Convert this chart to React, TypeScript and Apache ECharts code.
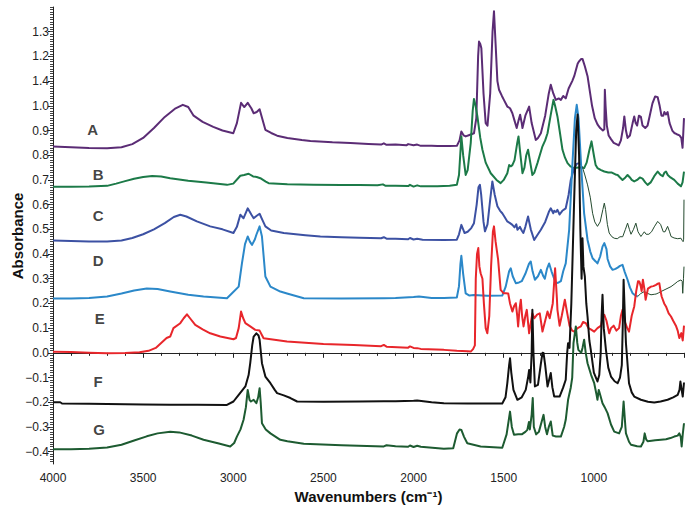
import React, { useEffect, useRef } from "react";
import * as echarts from "echarts";

type Pt = [number, number];

const xTicks: number[] = [500, 1000, 1500, 2000, 2500, 3000, 3500, 4000];
const yMajor: number[] = [-0.4, -0.3, -0.2, -0.1, 0, 0.1, 0.2, 0.3, 0.4, 0.5, 0.6, 0.7, 0.8, 0.9, 1.0, 1.1, 1.2, 1.3];
const yLabelText: string[] = ["−0.4", "−0.3", "−0.2", "−0.1", "0.0", "0.1", "0.2", "0.3", "0.4", "0.5", "0.6", "0.7", "0.8", "0.9", "1.0", "1.4", "1.2", "1.3"];
const yTitle = "Absorbance";
const xTitle = "Wavenumbers (cm⁻¹)";

const curveLetters: string[] = ["A", "B", "C", "D", "E", "F", "G"];
const letterPos: Pt[] = [[3780, 0.905], [3750, 0.72], [3750, 0.555], [3750, 0.375], [3740, 0.14], [3750, -0.115], [3745, -0.31]];

const seriesA: Pt[] = [
  [4000, 0.835], [3900, 0.832], [3800, 0.829], [3700, 0.828], [3620, 0.832], [3560, 0.845], [3500, 0.87], [3440, 0.91], [3380, 0.955], [3320, 0.99], [3280, 1.004], [3250, 0.995], [3220, 0.96], [3170, 0.935], [3111, 0.915], [3060, 0.9], [3000, 0.889], [2980, 0.93], [2957, 1.012], [2939, 0.995], [2920, 1.012], [2900, 0.99], [2887, 0.97], [2870, 0.975], [2854, 0.986], [2840, 0.95], [2822, 0.903], [2790, 0.89], [2757, 0.879], [2700, 0.87], [2620, 0.862], [2572, 0.858], [2450, 0.852], [2350, 0.849], [2250, 0.845], [2180, 0.843], [2165, 0.848], [2150, 0.842], [2100, 0.843], [2040, 0.84], [2030, 0.845], [2000, 0.84], [1980, 0.843], [1960, 0.838], [1900, 0.838], [1868, 0.837], [1800, 0.837], [1760, 0.838], [1745, 0.86], [1735, 0.896], [1722, 0.88], [1711, 0.876], [1690, 0.882], [1665, 0.889], [1652, 0.95], [1642, 1.2], [1637, 1.26], [1630, 1.25], [1624, 1.233], [1612, 1.05], [1600, 0.93], [1590, 0.92], [1575, 1.05], [1562, 1.3], [1554, 1.383], [1545, 1.25], [1535, 1.1], [1526, 1.065], [1510, 1.04], [1499, 1.024], [1480, 0.997], [1465, 0.99], [1452, 0.97], [1440, 0.94], [1428, 0.91], [1418, 0.94], [1409, 0.964], [1400, 0.93], [1396, 0.91], [1380, 0.96], [1359, 0.997], [1345, 0.93], [1322, 0.862], [1310, 0.87], [1294, 0.889], [1270, 0.96], [1250, 1.05], [1239, 1.085], [1225, 1.05], [1211, 1.024], [1195, 1.03], [1183, 1.024], [1170, 1.04], [1156, 1.03], [1140, 1.07], [1120, 1.1], [1109, 1.12], [1090, 1.17], [1082, 1.18], [1070, 1.19], [1063, 1.19], [1050, 1.16], [1035, 1.12], [1010, 1.0], [995, 0.95], [980, 0.925], [965, 0.91], [950, 0.9], [942, 0.905], [939, 1.065], [935, 1.0], [928, 0.92], [918, 0.88], [905, 0.865], [890, 0.85], [875, 0.845], [862, 0.84], [850, 0.86], [838, 0.91], [831, 0.957], [822, 0.9], [813, 0.87], [800, 0.88], [785, 0.93], [776, 0.957], [768, 0.93], [760, 0.92], [750, 0.96], [739, 0.955], [730, 0.92], [715, 0.91], [702, 0.92], [690, 0.96], [675, 1.01], [660, 1.038], [646, 1.035], [635, 1.0], [625, 0.96], [615, 0.96], [609, 0.975], [600, 0.965], [591, 0.975], [580, 0.93], [565, 0.9], [554, 0.89], [540, 0.885], [525, 0.88], [515, 0.87], [508, 0.83], [500, 0.95],
];

const seriesB: Pt[] = [
  [4000, 0.672], [3900, 0.672], [3800, 0.673], [3700, 0.676], [3650, 0.685], [3600, 0.695], [3550, 0.705], [3500, 0.712], [3450, 0.716], [3400, 0.714], [3350, 0.707], [3250, 0.697], [3150, 0.69], [3035, 0.68], [3000, 0.685], [2961, 0.717], [2940, 0.72], [2915, 0.725], [2890, 0.714], [2870, 0.712], [2850, 0.707], [2820, 0.693], [2804, 0.687], [2700, 0.682], [2556, 0.68], [2400, 0.679], [2300, 0.679], [2200, 0.678], [2170, 0.682], [2155, 0.676], [2100, 0.676], [2030, 0.675], [2020, 0.68], [2000, 0.673], [1980, 0.678], [1960, 0.674], [1868, 0.674], [1800, 0.676], [1760, 0.68], [1748, 0.72], [1735, 0.876], [1725, 0.8], [1711, 0.72], [1700, 0.74], [1683, 0.849], [1672, 0.98], [1665, 1.028], [1656, 1.0], [1646, 0.957], [1630, 0.87], [1618, 0.822], [1600, 0.77], [1572, 0.727], [1540, 0.7], [1517, 0.687], [1500, 0.7], [1480, 0.727], [1470, 0.76], [1461, 0.755], [1452, 0.76], [1440, 0.78], [1425, 0.85], [1418, 0.876], [1410, 0.82], [1396, 0.727], [1385, 0.75], [1375, 0.8], [1365, 0.822], [1355, 0.78], [1341, 0.72], [1330, 0.73], [1313, 0.768], [1300, 0.8], [1285, 0.836], [1270, 0.86], [1257, 0.889], [1240, 0.96], [1224, 1.024], [1215, 1.0], [1202, 0.957], [1190, 0.9], [1174, 0.822], [1160, 0.79], [1146, 0.768], [1130, 0.755], [1109, 0.748], [1085, 0.75], [1070, 0.75], [1054, 0.748], [1040, 0.77], [1025, 0.82], [1013, 0.856], [1000, 0.8], [990, 0.76], [980, 0.748], [960, 0.74], [942, 0.734], [920, 0.73], [900, 0.73], [880, 0.722], [868, 0.72], [855, 0.71], [841, 0.7], [825, 0.71], [813, 0.72], [800, 0.71], [790, 0.7], [776, 0.694], [760, 0.7], [745, 0.71], [730, 0.705], [715, 0.69], [702, 0.68], [685, 0.69], [665, 0.715], [646, 0.734], [630, 0.72], [618, 0.715], [608, 0.73], [600, 0.734], [590, 0.72], [575, 0.71], [554, 0.7], [535, 0.685], [517, 0.674], [508, 0.69], [500, 0.734],
];

const seriesC: Pt[] = [
  [4000, 0.455], [3900, 0.453], [3800, 0.451], [3700, 0.451], [3620, 0.455], [3560, 0.465], [3500, 0.48], [3440, 0.5], [3380, 0.525], [3330, 0.55], [3294, 0.559], [3260, 0.552], [3202, 0.532], [3128, 0.512], [3060, 0.5], [2999, 0.485], [2980, 0.51], [2961, 0.559], [2943, 0.545], [2920, 0.585], [2900, 0.56], [2887, 0.545], [2870, 0.555], [2854, 0.563], [2840, 0.54], [2822, 0.512], [2790, 0.495], [2720, 0.485], [2600, 0.476], [2517, 0.471], [2400, 0.468], [2300, 0.466], [2180, 0.464], [2165, 0.468], [2150, 0.462], [2100, 0.462], [2030, 0.46], [2020, 0.465], [2000, 0.459], [1980, 0.462], [1950, 0.458], [1832, 0.457], [1760, 0.458], [1748, 0.48], [1735, 0.518], [1725, 0.5], [1717, 0.485], [1700, 0.49], [1680, 0.505], [1665, 0.525], [1650, 0.6], [1640, 0.67], [1632, 0.68], [1625, 0.64], [1612, 0.53], [1604, 0.492], [1590, 0.52], [1575, 0.62], [1563, 0.694], [1550, 0.64], [1535, 0.593], [1520, 0.575], [1508, 0.565], [1495, 0.55], [1480, 0.532], [1465, 0.525], [1452, 0.518], [1440, 0.508], [1430, 0.52], [1424, 0.498], [1410, 0.51], [1400, 0.495], [1391, 0.485], [1380, 0.51], [1365, 0.552], [1350, 0.5], [1331, 0.457], [1315, 0.475], [1294, 0.498], [1270, 0.53], [1250, 0.57], [1239, 0.585], [1225, 0.565], [1220, 0.575], [1210, 0.57], [1202, 0.579], [1190, 0.56], [1175, 0.575], [1156, 0.585], [1140, 0.64], [1128, 0.7], [1110, 0.745], [1095, 0.765], [1082, 0.768],
];

const seriesCTail: Pt[] = [
  [1082, 0.768], [1065, 0.755], [1050, 0.72], [1035, 0.68], [1020, 0.63], [1007, 0.565], [995, 0.53], [980, 0.512], [965, 0.53], [950, 0.58], [942, 0.606], [935, 0.58], [925, 0.52], [915, 0.485], [900, 0.47], [887, 0.464], [870, 0.462], [855, 0.47], [840, 0.47], [825, 0.5], [813, 0.525], [803, 0.5], [794, 0.48], [780, 0.5], [767, 0.525], [755, 0.49], [739, 0.471], [730, 0.48], [720, 0.49], [710, 0.48], [695, 0.48], [680, 0.49], [665, 0.51], [646, 0.532], [630, 0.52], [615, 0.49], [605, 0.49], [591, 0.512], [580, 0.49], [572, 0.471], [555, 0.465], [535, 0.462], [517, 0.464], [510, 0.455], [505, 0.45], [502, 0.46], [500, 0.62],
];

const seriesD: Pt[] = [
  [4000, 0.22], [3900, 0.22], [3800, 0.222], [3700, 0.228], [3620, 0.24], [3550, 0.252], [3480, 0.26], [3420, 0.258], [3350, 0.248], [3250, 0.235], [3165, 0.228], [3035, 0.221], [3007, 0.241], [2970, 0.268], [2952, 0.362], [2935, 0.44], [2920, 0.471], [2908, 0.45], [2896, 0.437], [2880, 0.46], [2872, 0.478], [2854, 0.512], [2841, 0.471], [2822, 0.309], [2794, 0.268], [2739, 0.248], [2702, 0.24], [2609, 0.221], [2400, 0.22], [2165, 0.221], [2100, 0.222], [2000, 0.226], [1970, 0.228], [1900, 0.222], [1832, 0.222], [1760, 0.224], [1748, 0.27], [1740, 0.36], [1735, 0.393], [1725, 0.32], [1711, 0.241], [1690, 0.232], [1665, 0.234], [1620, 0.232], [1591, 0.231], [1508, 0.232], [1489, 0.268], [1470, 0.33], [1461, 0.342], [1450, 0.31], [1433, 0.282], [1415, 0.285], [1400, 0.29], [1380, 0.32], [1360, 0.36], [1350, 0.37], [1340, 0.33], [1327, 0.296], [1310, 0.31], [1294, 0.336], [1280, 0.31], [1272, 0.3], [1260, 0.34], [1248, 0.362], [1235, 0.33], [1211, 0.282], [1195, 0.285], [1183, 0.29], [1170, 0.33], [1156, 0.362], [1137, 0.498], [1120, 0.75], [1105, 0.95], [1095, 1.004], [1085, 0.95], [1070, 0.75], [1054, 0.565], [1035, 0.457], [1020, 0.41], [1007, 0.383], [990, 0.37], [980, 0.362], [965, 0.39], [952, 0.43], [942, 0.444], [930, 0.42], [924, 0.38], [910, 0.35], [896, 0.336], [880, 0.34], [868, 0.345], [855, 0.352], [841, 0.356], [830, 0.33], [813, 0.296], [800, 0.265], [785, 0.241], [770, 0.232], [757, 0.228],
];

const seriesDTail: Pt[] = [
  [757, 0.228], [740, 0.24], [720, 0.248], [700, 0.24], [683, 0.235], [665, 0.237], [655, 0.238], [640, 0.243], [628, 0.248], [600, 0.258], [572, 0.268], [550, 0.28], [535, 0.289], [517, 0.295], [510, 0.29], [507, 0.241], [503, 0.3], [500, 0.349],
];

const seriesE: Pt[] = [
  [4000, 0.004], [3900, 0.003], [3800, 0.0], [3700, -0.002], [3600, -0.001], [3520, 0.002], [3470, 0.008], [3430, 0.02], [3400, 0.04], [3370, 0.06], [3350, 0.066], [3332, 0.1], [3294, 0.12], [3275, 0.14], [3257, 0.156], [3240, 0.14], [3211, 0.113], [3170, 0.095], [3128, 0.079], [3072, 0.066], [2999, 0.055], [2985, 0.06], [2970, 0.1], [2957, 0.167], [2945, 0.14], [2933, 0.12], [2906, 0.107], [2878, 0.093], [2854, 0.09], [2840, 0.07], [2832, 0.059], [2702, 0.046], [2500, 0.036], [2332, 0.032], [2180, 0.027], [2165, 0.032], [2150, 0.025], [2030, 0.021], [2020, 0.026], [2000, 0.02], [1980, 0.019], [1960, 0.016], [1832, 0.012], [1760, 0.008], [1700, 0.006], [1683, 0.005], [1670, 0.015], [1660, 0.03], [1655, 0.3], [1648, 0.4], [1641, 0.424], [1635, 0.35], [1628, 0.322], [1618, 0.3], [1610, 0.2], [1600, 0.1], [1591, 0.079], [1580, 0.15], [1570, 0.35], [1560, 0.49], [1554, 0.512], [1545, 0.45], [1531, 0.377], [1517, 0.255], [1500, 0.241], [1489, 0.241], [1475, 0.24], [1465, 0.2], [1452, 0.167], [1442, 0.19], [1433, 0.201], [1425, 0.15], [1420, 0.107], [1412, 0.18], [1405, 0.215], [1398, 0.15], [1390, 0.107], [1380, 0.15], [1372, 0.174], [1359, 0.079], [1350, 0.12], [1341, 0.16], [1330, 0.14], [1315, 0.155], [1300, 0.16], [1285, 0.086], [1270, 0.13], [1257, 0.167], [1245, 0.14], [1228, 0.2], [1215, 0.342], [1205, 0.22], [1202, 0.174], [1190, 0.11], [1178, 0.15], [1161, 0.215], [1150, 0.17], [1135, 0.11], [1120, 0.09], [1109, 0.086], [1090, 0.1], [1072, 0.107], [1060, 0.125], [1044, 0.12], [1030, 0.1], [1017, 0.095], [998, 0.086], [980, 0.1], [960, 0.11], [950, 0.15], [942, 0.154], [930, 0.13], [915, 0.079], [905, 0.1], [890, 0.11], [875, 0.09], [860, 0.1], [850, 0.15], [841, 0.174], [830, 0.13], [815, 0.1], [805, 0.086], [790, 0.15], [776, 0.188], [765, 0.25], [755, 0.29], [748, 0.289], [740, 0.27], [735, 0.25], [728, 0.296], [720, 0.26], [713, 0.215], [700, 0.26], [683, 0.268], [670, 0.27], [655, 0.275], [645, 0.28], [637, 0.282], [630, 0.25], [624, 0.228], [610, 0.2], [600, 0.188], [585, 0.16], [572, 0.147], [560, 0.13], [545, 0.11], [535, 0.09], [526, 0.06], [515, 0.08], [507, 0.05], [500, 0.11],
];

const seriesF: Pt[] = [
  [4000, -0.2], [3960, -0.2], [3950, -0.205], [3800, -0.206], [3700, -0.207], [3600, -0.208], [3500, -0.209], [3350, -0.21], [3200, -0.21], [3035, -0.211], [2999, -0.197], [2970, -0.17], [2933, -0.136], [2915, -0.09], [2906, -0.042], [2895, 0.03], [2887, 0.066], [2872, 0.079], [2860, 0.07], [2854, 0.053], [2841, -0.042], [2822, -0.096], [2794, -0.123], [2770, -0.15], [2757, -0.163], [2720, -0.172], [2683, -0.183], [2646, -0.197], [2500, -0.198], [2300, -0.197], [2165, -0.196], [2100, -0.196], [2000, -0.194], [1980, -0.193], [1900, -0.2], [1832, -0.204], [1700, -0.205], [1508, -0.205], [1490, -0.18], [1480, -0.123], [1470, -0.05], [1465, -0.022], [1458, -0.08], [1446, -0.15], [1424, -0.19], [1400, -0.18], [1378, -0.15], [1365, -0.1], [1359, -0.069], [1352, -0.12], [1345, 0.0], [1341, 0.174], [1335, 0.0], [1327, -0.136], [1310, -0.13], [1295, -0.05], [1285, 0.0], [1279, -0.001], [1270, -0.05], [1257, -0.136], [1245, -0.1], [1239, -0.082], [1230, -0.14], [1220, -0.177], [1190, -0.177], [1170, -0.14], [1156, -0.109], [1148, 0.0], [1143, 0.039], [1135, 0.02], [1125, 0.2], [1110, 0.6], [1098, 0.9], [1090, 0.965], [1082, 0.8], [1075, 0.5], [1068, 0.3], [1063, 0.464], [1058, 0.35], [1050, 0.309], [1042, 0.2], [1035, 0.147], [1025, 0.05], [1017, 0.012], [1000, -0.08], [980, -0.116], [970, -0.09], [962, 0.0], [957, 0.15], [952, 0.235], [945, 0.1], [933, 0.012], [920, -0.06], [905, -0.096], [885, -0.115], [868, -0.123], [855, -0.1], [845, -0.05], [840, 0.1], [835, 0.296], [828, 0.15], [822, 0.039], [805, -0.123], [790, -0.16], [776, -0.177], [739, -0.19], [700, -0.198], [665, -0.201], [630, -0.197], [591, -0.19], [560, -0.18], [535, -0.17], [525, -0.15], [520, -0.116], [513, -0.15], [507, -0.177], [500, -0.12],
];

const seriesG: Pt[] = [
  [4000, -0.39], [3900, -0.39], [3800, -0.388], [3700, -0.383], [3620, -0.372], [3550, -0.355], [3480, -0.338], [3420, -0.326], [3350, -0.319], [3300, -0.322], [3230, -0.335], [3165, -0.352], [3080, -0.367], [3017, -0.379], [2995, -0.365], [2980, -0.339], [2960, -0.31], [2943, -0.271], [2930, -0.22], [2920, -0.15], [2910, -0.19], [2902, -0.197], [2887, -0.19], [2872, -0.204], [2862, -0.18], [2854, -0.143], [2848, -0.2], [2841, -0.285], [2820, -0.31], [2794, -0.326], [2739, -0.352], [2700, -0.358], [2609, -0.368], [2400, -0.374], [2165, -0.379], [2150, -0.374], [2100, -0.378], [2030, -0.38], [2020, -0.375], [2000, -0.381], [1980, -0.376], [1960, -0.38], [1832, -0.388], [1780, -0.386], [1759, -0.326], [1745, -0.31], [1735, -0.312], [1720, -0.34], [1702, -0.366], [1628, -0.379], [1508, -0.384], [1484, -0.33], [1465, -0.238], [1455, -0.3], [1443, -0.332], [1420, -0.33], [1400, -0.33], [1380, -0.32], [1369, -0.312], [1360, -0.28], [1355, -0.31], [1345, -0.25], [1339, -0.183], [1333, -0.3], [1320, -0.33], [1305, -0.32], [1290, -0.28], [1279, -0.251], [1270, -0.3], [1260, -0.33], [1250, -0.3], [1239, -0.278], [1228, -0.335], [1210, -0.339], [1183, -0.339], [1165, -0.3], [1156, -0.271], [1143, -0.19], [1128, -0.14], [1120, -0.1], [1113, 0.039], [1100, 0.107], [1092, 0.04], [1086, 0.012], [1070, 0.0], [1063, 0.02], [1054, 0.053], [1045, 0.0], [1035, -0.042], [1015, -0.09], [998, -0.123], [985, -0.17], [980, -0.19], [973, -0.15], [965, -0.17], [952, -0.204], [940, -0.22], [924, -0.244], [905, -0.29], [887, -0.319], [860, -0.326], [845, -0.3], [835, -0.197], [825, -0.3], [822, -0.326], [805, -0.36], [794, -0.372], [760, -0.378], [739, -0.379], [725, -0.36], [718, -0.326], [710, -0.35], [702, -0.358], [680, -0.356], [660, -0.354], [628, -0.352], [600, -0.35], [575, -0.345], [554, -0.339], [535, -0.335], [526, -0.326], [518, -0.34], [513, -0.379], [507, -0.33], [500, -0.285],
];

const minorYTicks: number[] = (() => {
  const out: number[] = [];
  for (let i = -44; i <= 140; i++) out.push(i / 100);
  return out;
})();

const FONT = '"Liberation Sans", Arial, Helvetica, sans-serif';

function line(name: string, data: Pt[], color: string, width: number, z: number) {
  return {
    type: "line",
    name,
    data,
    symbol: "none",
    showSymbol: false,
    smooth: false,
    z,
    lineStyle: { color, width, join: "round" },
    itemStyle: { color },
    emphasis: { disabled: true },
  };
}

export default function App() {
  const ref = useRef<HTMLDivElement>(null);
  useEffect(() => {
    document.body.style.margin = "0";
    if (!ref.current) return;
    const chart = echarts.init(ref.current, undefined, { renderer: "svg" });
    const labelData = curveLetters.map((c, i) => [letterPos[i][0], letterPos[i][1], c]);
    chart.setOption({
      animation: false,
      backgroundColor: "#ffffff",
      grid: { left: 53, right: 10, top: 7, bottom: 51, outerBoundsMode: "none" },
      graphic: [
        {
          type: "text",
          x: 17,
          y: 236,
          rotation: Math.PI / 2,
          silent: true,
          style: {
            text: yTitle,
            font: `bold 15px ${FONT}`,
            fill: "#111",
            align: "center",
            verticalAlign: "middle",
          },
        },
      ],
      xAxis: {
        type: "value",
        inverse: true,
        min: 500,
        max: 4000,
        interval: 500,
        name: xTitle,
        nameLocation: "middle",
        nameGap: 24,
        nameTextStyle: { fontFamily: FONT, fontSize: 15, fontWeight: "bold", color: "#111" },
        axisLine: { show: true, lineStyle: { color: "#222", width: 1 } },
        axisTick: { show: true, length: 5, lineStyle: { color: "#222" } },
        minorTick: { show: true, splitNumber: 5, length: 3, lineStyle: { color: "#222" } },
        splitLine: { show: false },
        axisLabel: {
          fontFamily: FONT,
          fontSize: 12,
          color: "#222",
          margin: 8,
          formatter: (v: number) => (xTicks.indexOf(v) > 0 ? String(v) : ""),
        },
      },
      yAxis: [
        {
          type: "value",
          min: -0.45,
          max: 1.4,
          axisLine: { show: true, lineStyle: { color: "#222", width: 1 } },
          axisTick: { show: true, length: 5, customValues: yMajor, lineStyle: { color: "#222" } },
          splitLine: { show: false },
          axisLabel: {
            customValues: yMajor,
            fontFamily: FONT,
            fontSize: 12,
            color: "#222",
            margin: 4,
            formatter: (v: number) => {
              const idx = yMajor.findIndex((m) => Math.abs(m - v) < 1e-6);
              return idx >= 0 ? yLabelText[idx] : "";
            },
          },
        },
        {
          type: "value",
          min: -0.45,
          max: 1.4,
          position: "left",
          offset: 0,
          axisLine: { show: false },
          axisTick: { show: true, length: 3, customValues: minorYTicks, lineStyle: { color: "#444" } },
          axisLabel: { show: false },
          splitLine: { show: false },
        },
      ],
      series: [
        line("A", seriesA, "#5b2c75", 2, 2),
        line("B", seriesB, "#1c7a48", 2, 3),
        line("C", seriesC, "#3c51a3", 2, 4),
        line("C tail", seriesCTail, "#244a2e", 1, 4),
        line("D", seriesD, "#2b88c9", 2, 5),
        line("D tail", seriesDTail, "#244a2e", 1, 5),
        line("E", seriesE, "#e8262b", 2, 6),
        line("F", seriesF, "#111111", 2, 7),
        line("G", seriesG, "#1d5b31", 2, 8),
        {
          type: "scatter",
          name: "labels",
          data: labelData,
          symbolSize: 0,
          z: 10,
          silent: true,
          label: {
            show: true,
            position: "inside",
            formatter: (p: any) => p.data[2],
            fontFamily: FONT,
            fontSize: 15,
            fontWeight: "bold",
            color: "#111",
          },
        },
      ],
    });
    return () => chart.dispose();
  }, []);
  return <div ref={ref} style={{ width: 694, height: 515 }} />;
}
